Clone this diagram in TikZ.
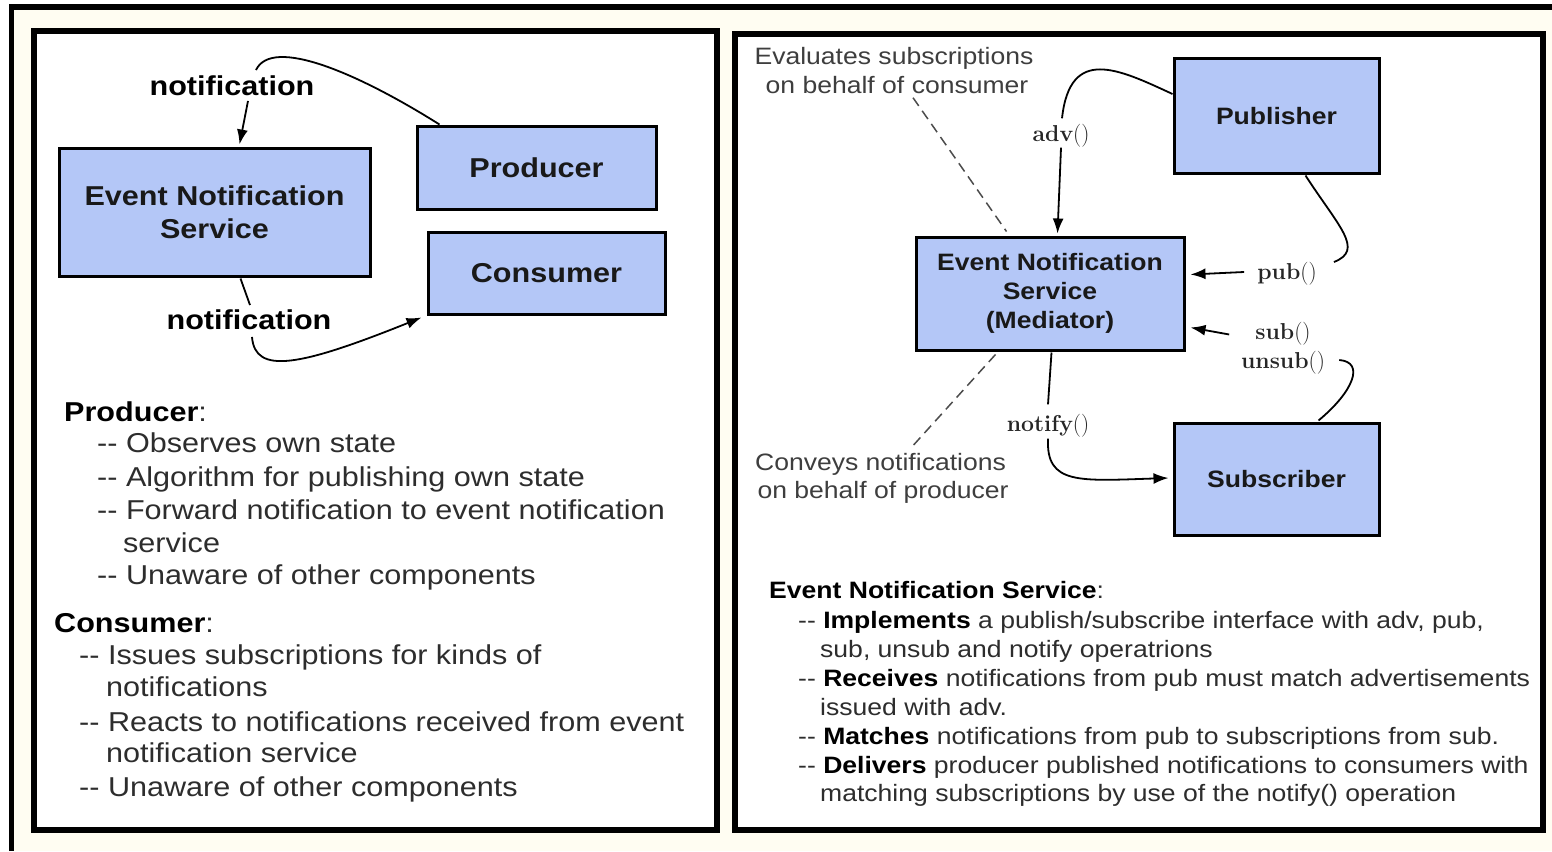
\documentclass[tikz,border=0pt]{standalone}
\usepackage{fontspec}
\usetikzlibrary{arrows.meta,calc}

\newfontfamily\hv[FakeStretch=1.12]{Liberation Sans}
\definecolor{boxblue}{RGB}{180,199,247}
\definecolor{paper}{RGB}{255,253,242}
\definecolor{bodytext}{RGB}{45,45,45}
\definecolor{notetext}{RGB}{62,62,62}
\newcommand{\bigtxt}{\hv\fontsize{27.3}{33}\selectfont}
\newcommand{\smalltxt}{\hv\fontsize{23.7}{29}\selectfont}
\newcommand{\optxt}{\rmfamily\fontsize{23}{27}\selectfont}
\newcommand{\callop}[1]{\textbf{#1}()}

\begin{document}
\begin{tikzpicture}[x=1pt,y=-1pt,
  outerframe/.style={line width=5.5pt,line join=miter},
  panel/.style={draw=black,line width=6pt,fill=white},
  comp/.style={draw=black,line width=3pt,fill=boxblue,inner sep=0pt,align=center,text=black!90},
  lcomp/.style={comp,font=\bigtxt\bfseries},
  rcomp/.style={comp,font=\smalltxt\bfseries},
  ltext/.style={anchor=west,inner sep=0pt,text height=19.5pt,text depth=0pt,font=\bigtxt,text=bodytext},
  rtext/.style={anchor=west,inner sep=0pt,text height=17pt,text depth=0pt,font=\smalltxt,text=bodytext},
  annot/.style={inner sep=0pt,text height=17pt,text depth=0pt,font=\smalltxt,text=notetext},
  flowlbl/.style={inner sep=0pt,text height=19.5pt,text depth=0pt,font=\bigtxt\bfseries,text=black},
  oplbl/.style={inner sep=0pt,text height=15pt,text depth=0pt,font=\optxt,text=black!85},
  conn/.style={line width=1.8pt},
  arr/.style={conn,-{Latex[length=15pt,width=11pt]}},
  guide/.style={line width=1.5pt,dash pattern=on 10pt off 6pt,draw=black!70},
]
\useasboundingbox (0,0) rectangle (1552,851);
\fill[white] (0,0) rectangle (1552,851);
\fill[paper] (11.5,7) rectangle (1552,851);
\draw[outerframe] (11.5,851) -- (11.5,7) -- (1552,7);

% the two panels
\draw[panel] (33.5,31.5) rectangle (716.5,830);
\draw[panel] (735,34.5) rectangle (1543,830);

% ---------- left panel: components ----------
\node[lcomp,minimum width=311pt,minimum height=128pt] (ensL) at (214.5,212) {Event Notification\\Service};
\node[lcomp,minimum width=239pt,minimum height=83pt] (prod) at (536.5,167.5) {Producer};
\node[lcomp,minimum width=237pt,minimum height=82pt] (cons) at (546.5,273) {Consumer};

\node[flowlbl] (nt1) at (232,86) {notification};
\node[flowlbl] (nt2) at (249,320) {notification};

\draw[conn] ($(prod.north west)+(24,0)$) .. controls +(-81,-51) and +(16,-34) .. ($(nt1.north)+(24,-6)$);
\draw[arr] ($(nt1.south)+(16,5)$) -- ($(ensL.north west)+(182,-2)$);
\draw[conn] ($(ensL.south west)+(183,1)$) -- ($(nt2.north)+(1,-5)$);
\draw[arr] ($(nt2.south)+(3,7)$) .. controls +(3,38) and +(-122,49) .. ($(cons.south west)+(-5,2)$);

% ---------- left panel: description ----------
\node[ltext] (prodHd) at (64,412) {{\color{black}\textbf{Producer}}:};
\node[ltext] (p1) at (97,443) {-{}- Observes own state};
\node[ltext] (p2) at (97,477) {-{}- Algorithm for publishing own state};
\node[ltext] (p3) at (97,510) {-{}- Forward notification to event notification};
\node[ltext] (p3b) at (123,543) {service};
\node[ltext] (p4) at (97,575) {-{}- Unaware of other components};
\node[ltext] (consHd) at (54,623) {{\color{black}\textbf{Consumer}}:};
\node[ltext] (c1) at (79,655) {-{}- Issues subscriptions for kinds of};
\node[ltext] (c1b) at (106,687) {notifications};
\node[ltext] (c2) at (79,722) {-{}- Reacts to notifications received from event};
\node[ltext] (c2b) at (106,753) {notification service};
\node[ltext] (c3) at (79,787) {-{}- Unaware of other components};

% ---------- right panel: components ----------
\node[rcomp,minimum width=268pt,minimum height=113pt] (ensR) at (1050,293.5) {Event Notification\\Service\\(Mediator)};
\node[rcomp,minimum width=205pt,minimum height=114pt] (pubr) at (1276.5,116) {Publisher};
\node[rcomp,minimum width=205pt,minimum height=112pt] (subr) at (1276.5,479) {Subscriber};

\node[oplbl] (advop) at (1061,134) {\callop{adv}};
\node[oplbl] (pubop) at (1287,272) {\callop{pub}};
\node[oplbl] (subop) at (1283,331.5) {\callop{sub}};
\node[oplbl] (unsubop) at (1283,361) {\callop{unsub}};
\node[oplbl] (notop) at (1048,424) {\callop{notify}};

\node[annot] (evalA) at (894,56) {Evaluates subscriptions};
\node[annot] (evalB) at (897,85) {on behalf of consumer};
\node[annot] (convA) at (880.5,462) {Conveys notifications};
\node[annot] (convB) at (883,490) {on behalf of producer};

% advertise
\draw[conn] ($(pubr.west)+(0,-22)$) .. controls +(-54,-25) and +(8,-73) .. ($(advop.north)+(1,-8)$);
\draw[arr] ($(advop.south)+(0,6)$) -- ($(ensR.north west)+(143,-2)$);
% publish
\draw[conn] ($(pubr.south west)+(133,1)$) .. controls +(33,51) and +(31,-12) .. ($(pubop.east)+(17,-10)$);
\draw[arr] ($(pubop.west)+(-13,0)$) -- ($(ensR.east)+(5,-19)$);
% subscribe / unsubscribe
\draw[conn] ($(subr.north west)+(146,-1)$) .. controls +(35,-29) and +(26,2) .. ($(unsubop.east)+(14,-1)$);
\draw[arr] ($(subop.west)+(-26,3)$) -- ($(ensR.east)+(5,34)$);
% notify
\draw[conn] ($(ensR.south west)+(137,1)$) -- ($(notop.north)+(0,-12)$);
\draw[arr] ($(notop.south)+(0,7)$) .. controls +(-2,46) and +(-90,3) .. ($(subr.west)+(-4,-1)$);

% dashed guides to the notes
\draw[guide] ($(evalB.south)+(16,4)$) -- ($(ensR.north west)+(92,-4)$);
\draw[guide] ($(ensR.south west)+(81,3)$) -- ($(convA.north)+(31,-6)$);

% ---------- right panel: description ----------
\node[rtext] (ensHd) at (769,590) {{\color{black}\textbf{Event Notification Service}}:};
\node[rtext] (r1) at (798,620) {-{}- {\color{black}\textbf{Implements}} a publish/subscribe interface with adv, pub,};
\node[rtext] (r1b) at (820,649) {sub, unsub and notify operatrions};
\node[rtext] (r2) at (798,678) {-{}- {\color{black}\textbf{Receives}} notifications from pub must match advertisements};
\node[rtext] (r2b) at (820,707) {issued with adv.};
\node[rtext] (r3) at (798,736) {-{}- {\color{black}\textbf{Matches}} notifications from pub to subscriptions from sub.};
\node[rtext] (r4) at (798,765) {-{}- {\color{black}\textbf{Delivers}} producer published notifications to consumers with};
\node[rtext] (r4b) at (820,793) {matching subscriptions by use of the notify() operation};
\end{tikzpicture}
\end{document}
